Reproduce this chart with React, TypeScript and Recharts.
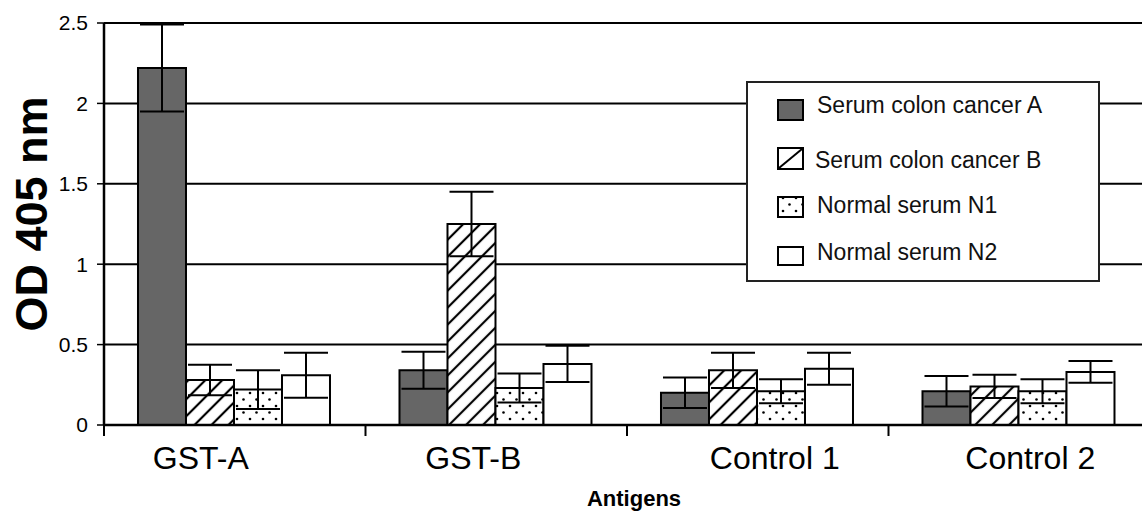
import React from 'react';
import { BarChart, Bar, XAxis, YAxis, CartesianGrid, ErrorBar, Label } from 'recharts';

// valores (OD 405 nm)
const categories = ['GST-A', 'GST-B', 'Control 1', 'Control 2'];
const cancerA = [2.22, 0.34, 0.2, 0.21];
const cancerAErr = [0.27, 0.115, 0.095, 0.095];
const cancerB = [0.28, 1.25, 0.34, 0.24];
const cancerBErr = [0.095, 0.2, 0.11, 0.072];
const normalN1 = [0.22, 0.23, 0.21, 0.21];
const normalN1Err = [0.12, 0.09, 0.075, 0.075];
const normalN2 = [0.31, 0.38, 0.35, 0.33];
const normalN2Err = [0.14, 0.113, 0.1, 0.068];
const yTicks = [0, 0.5, 1, 1.5, 2, 2.5];

const seriesNames = ['Serum colon cancer A', 'Serum colon cancer B', 'Normal serum N1', 'Normal serum N2'];

const data = categories.map((name, i) => ({
  name,
  a: cancerA[i],
  aErr: cancerAErr[i],
  b: cancerB[i],
  bErr: cancerBErr[i],
  n1: normalN1[i],
  n1Err: normalN1Err[i],
  n2: normalN2[i],
  n2Err: normalN2Err[i],
}));

const FONT = "'Liberation Sans', Arial, sans-serif";
// las etiquetas del eje X están desplazadas respecto al centro de cada grupo
const LABEL_SHIFT = [-34, -23, 17, 11];

const XTick = (props: any) => {
  const { x, y, payload, index } = props;
  const half = payload?.offset ?? 131;
  return (
    <g>
      <line x1={x - half} x2={x - half} y1={y} y2={y + 11} stroke="#000" strokeWidth={2} />
      <text x={x + LABEL_SHIFT[index]} y={y + 44} textAnchor="middle" fontSize={32} fontFamily={FONT} fill="#000">
        {payload.value}
      </text>
    </g>
  );
};

const Patterns = () => (
  <svg width={0} height={0} style={{ position: 'absolute' }}>
    <defs>
      <pattern id="hatch" patternUnits="userSpaceOnUse" width={12} height={12} patternTransform="rotate(45)">
        <rect width={12} height={12} fill="#fff" />
        <line x1={6} y1={0} x2={6} y2={12} stroke="#000" strokeWidth={2.2} />
      </pattern>
      <pattern id="dots" patternUnits="userSpaceOnUse" width={13} height={13}>
        <rect width={13} height={13} fill="#fff" />
        <circle cx={3} cy={3} r={1.3} fill="#000" />
        <circle cx={9.5} cy={9.5} r={1.3} fill="#000" />
      </pattern>
    </defs>
  </svg>
);

const LegendBox = () => {
  const rows = [
    { textY: 113, swY: 100, swH: 20, textX: 817 },
    { textY: 168, swY: 148, swH: 21, textX: 815 },
    { textY: 213, swY: 197, swH: 20, textX: 817 },
    { textY: 260, swY: 247, swH: 18, textX: 817 },
  ];
  return (
    <svg width={1142} height={514} style={{ position: 'absolute', left: 0, top: 0, pointerEvents: 'none' }}>
      <rect x={747} y={82} width={352} height={199} fill="#fff" stroke="#222" strokeWidth={2} />
      {rows.map((r, i) => (
        <g key={i}>
          {i === 0 && <rect x={778} y={r.swY} width={25} height={r.swH} fill="#666" stroke="#000" strokeWidth={2} />}
          {i === 1 && (
            <g>
              <rect x={778} y={r.swY} width={25} height={r.swH} fill="#fff" stroke="#000" strokeWidth={2} />
              <line x1={779} y1={r.swY + r.swH - 1} x2={802} y2={r.swY + 1} stroke="#000" strokeWidth={2} />
            </g>
          )}
          {i === 2 && <rect x={778} y={r.swY} width={25} height={r.swH} fill="url(#dots)" stroke="#000" strokeWidth={2} />}
          {i === 3 && <rect x={778} y={r.swY} width={25} height={r.swH} fill="#fff" stroke="#000" strokeWidth={2} />}
          <text x={r.textX} y={r.textY} fontSize={23} fontFamily={FONT} fill="#111">
            {seriesNames[i]}
          </text>
        </g>
      ))}
    </svg>
  );
};

export default function App() {
  return (
    <div style={{ position: 'absolute', left: 0, top: 0, width: 1142, height: 514, overflow: 'hidden', background: '#fff' }}>
      <Patterns />
      <BarChart
        width={1160}
        height={514}
        data={data}
        margin={{ top: 23, right: 10, left: 0, bottom: 0 }}
        barCategoryGap="13%"
        barGap={0}
      >
        <CartesianGrid vertical={false} stroke="#000" strokeWidth={2} />
        <XAxis
          dataKey="name"
          height={89}
          tickLine={false}
          tickSize={0}
          tickMargin={0}
          axisLine={{ stroke: '#000', strokeWidth: 2.5 }}
          tick={<XTick />}
          interval={0}
        >
          <Label
            content={() => (
              <text x={634} y={506} textAnchor="middle" fontSize={22} fontWeight="bold" fontFamily={FONT} fill="#000">
                Antigens
              </text>
            )}
          />
        </XAxis>
        <YAxis
          width={104}
          domain={[0, 2.5]}
          ticks={yTicks}
          tickSize={7}
          tickMargin={9}
          tickLine={{ stroke: '#000', strokeWidth: 1.5 }}
          axisLine={{ stroke: '#000', strokeWidth: 2.5 }}
          tick={{ fill: '#000', fontSize: 21, fontFamily: FONT }}
          allowDataOverflow
        >
          <Label
            content={() => (
              <text
                transform="rotate(-90)"
                x={-214}
                y={47}
                textAnchor="middle"
                fontSize={45}
                fontWeight="bold"
                fontFamily={FONT}
                fill="#000"
              >
                OD 405 nm
              </text>
            )}
          />
        </YAxis>
        <Bar dataKey="a" name={seriesNames[0]} fill="#666" stroke="#000" strokeWidth={2} isAnimationActive={false}>
          <ErrorBar dataKey="aErr" width={22} stroke="#000" strokeWidth={2} />
        </Bar>
        <Bar dataKey="b" name={seriesNames[1]} fill="url(#hatch)" stroke="#000" strokeWidth={2} isAnimationActive={false}>
          <ErrorBar dataKey="bErr" width={22} stroke="#000" strokeWidth={2} />
        </Bar>
        <Bar dataKey="n1" name={seriesNames[2]} fill="url(#dots)" stroke="#000" strokeWidth={2} isAnimationActive={false}>
          <ErrorBar dataKey="n1Err" width={22} stroke="#000" strokeWidth={2} />
        </Bar>
        <Bar dataKey="n2" name={seriesNames[3]} fill="#fff" stroke="#000" strokeWidth={2} isAnimationActive={false}>
          <ErrorBar dataKey="n2Err" width={22} stroke="#000" strokeWidth={2} />
        </Bar>
      </BarChart>
      <LegendBox />
    </div>
  );
}
